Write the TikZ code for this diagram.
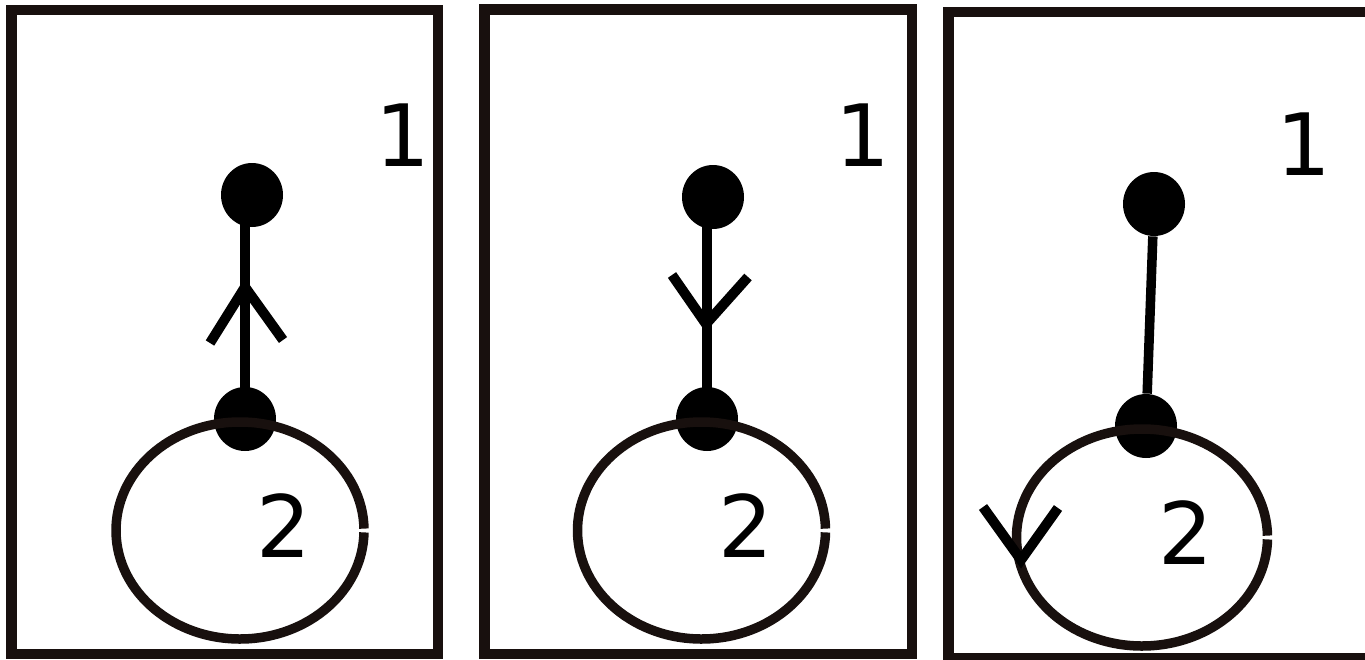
\documentclass[tikz,border=0pt]{standalone}
\usepackage{fontspec}
\setmainfont{DejaVu Sans}
\usetikzlibrary{shapes.geometric}
\definecolor{ink}{RGB}{24,16,14}
\begin{document}
\begin{tikzpicture}[x=0.5pt,y=-0.5pt,
  frame/.style={draw=ink, line width=5.25pt},
  vtx/.style={ellipse, fill=black, inner sep=0pt, minimum width=31pt, minimum height=32pt},
  edge/.style={draw=black, line width=4.75pt},
  loopline/.style={draw=ink, line width=4.75pt},
  chev/.style={draw=black, line width=5pt, line join=miter},
  lbl/.style={inner sep=0pt, font=\fontsize{43}{43}\selectfont}]
\useasboundingbox (0,0) rectangle (1365,659);
% frames
\draw[frame] (11.5,10) rectangle (438,654);
\draw[frame] (484.5,9.5) rectangle (912,654);
\draw[frame] (948.5,12) rectangle (1385,658);
% panel 1
\node[vtx] (t1) at (252,195) {};
\node[vtx] (b1) at (245,419) {};
\draw[edge] (b1.center) -- (b1.center |- t1.center);
\draw[chev] (210,343) -- (245,287) -- (283,340);
\coordinate (c1) at (240,530.5);
\draw[loopline] ([shift={(1:62pt and 54.25pt)}]c1) arc[start angle=1,end angle=359,x radius=62pt,y radius=54.25pt];
\node[lbl] (one1) at (402.5,135.5) {1};
\node[lbl] (two1) at (284,525.5) {2};
% panel 2
\node[vtx] (t2) at (713,197) {};
\node[vtx] (b2) at (707,419) {};
\draw[edge] (b2.center) -- (b2.center |- t2.center);
\draw[chev] (672,275) -- (706,324) -- (748,277);
\coordinate (c2) at (701.5,530.5);
\draw[loopline] ([shift={(1:62pt and 54.25pt)}]c2) arc[start angle=1,end angle=359,x radius=62pt,y radius=54.25pt];
\node[lbl] (one2) at (863,135.5) {1};
\node[lbl] (two2) at (746,525.5) {2};
% panel 3
\node[vtx] (t3) at (1154,204) {};
\node[vtx] (b3) at (1146,426) {};
\draw[edge] (t3) -- (b3);
\coordinate (c3) at (1142,537.5);
\draw[loopline] ([shift={(1:62.75pt and 54.25pt)}]c3) arc[start angle=1,end angle=359,x radius=62.75pt,y radius=54.25pt];
\draw[chev] (983,507) -- (1021,560) -- (1058,508);
\node[lbl] (one3) at (1304,144) {1};
\node[lbl] (two3) at (1186,532.5) {2};
\end{tikzpicture}
\end{document}
